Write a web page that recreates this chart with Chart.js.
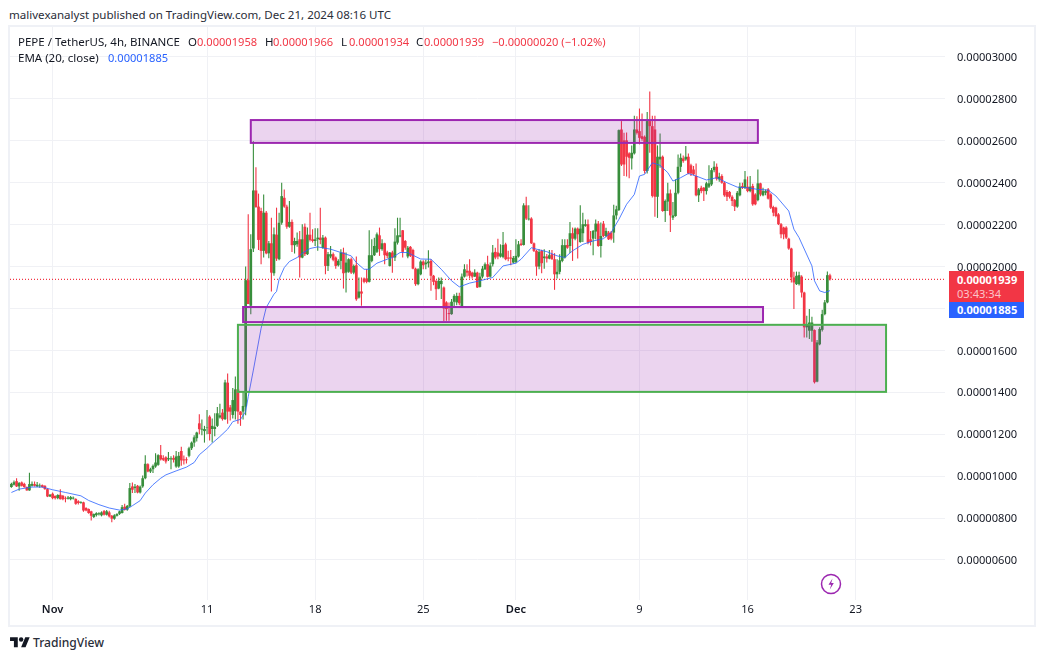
<!DOCTYPE html>
<html><head><meta charset="utf-8">
<style>
html,body{margin:0;padding:0;background:#fff;width:1044px;height:660px;overflow:hidden}
body{font-family:"Noto Sans",sans-serif;font-size:11.5px;color:#131722;position:relative}
.t{position:absolute;white-space:nowrap;line-height:16px}
.r{color:#F23645;font-size:11.1px}.b{color:#2962FF;font-size:11.1px}
#frame{position:absolute;left:8px;top:25px;width:1024px;height:598px;border:2px solid #eff1f6}
canvas{position:absolute;left:10px;top:27px}
.pill{position:absolute;left:949px;width:75px;color:#fff;font-weight:700;font-size:11.1px}
.pill span{position:absolute;left:8px;white-space:nowrap;line-height:16px}
</style></head><body>
<div id="frame"></div>
<canvas id="c" width="1024" height="598"></canvas>
<div class="t" style="left:9px;top:7px;font-size:11.55px;color:#2a2e39">malivexanalyst published on TradingView.com, Dec 21, 2024 08:16 UTC</div>
<div class="t" style="left:18px;top:34px">PEPE / TetherUS, 4h, BINANCE</div>
<div class="t" style="left:188px;top:34px">O</div><div class="t r" style="left:197px;top:34px">0.00001958</div>
<div class="t" style="left:265px;top:34px">H</div><div class="t r" style="left:273px;top:34px">0.00001966</div>
<div class="t" style="left:341px;top:34px">L</div><div class="t r" style="left:349px;top:34px">0.00001934</div>
<div class="t" style="left:416px;top:34px">C</div><div class="t r" style="left:424px;top:34px">0.00001939</div>
<div class="t r" style="left:492px;top:34px">−0.00000020 (−1.02%)</div>
<div class="t" style="left:18px;top:50px">EMA (20, close)</div><div class="t b" style="left:108px;top:50px">0.00001885</div>
<div class="pill" style="top:271px;height:31px;background:#F23645"><span style="top:1px">0.00001939</span><span style="top:15px;font-weight:400;color:#fbc4c9">03:43:34</span></div>
<div class="pill" style="top:302px;height:16px;background:#2962FF"><span style="top:0">0.00001885</span></div>
<svg style="position:absolute;left:819px;top:572px" width="24" height="24" viewBox="0 0 24 24"><circle cx="12" cy="12" r="9.5" fill="#fff" stroke="#9C27B0" stroke-width="1.5"/><path d="M13.5 6.5 L9.5 12.8 H12.2 L10.8 17.5 L14.8 11 H12.2 Z" fill="#9C27B0"/></svg>
<svg style="position:absolute;left:10px;top:635px" width="20" height="15.5" viewBox="0 0 36 28"><path fill="#131722" d="M14 22H7V11H0V4h14v18zM28 22h-8l7.5-18h8L28 22z"/><circle fill="#131722" cx="20" cy="8" r="4"/></svg>
<div class="t" style="left:33px;top:635px;font-size:12.1px;font-weight:500;color:#2a2e39">TradingView</div>
<script src="https://cdn.jsdelivr.net/npm/chart.js@4"></script>
<script>
const firstBar = -16;
const opens = [
948,959,976,951,970,963,948,932,954,962,
951,952,957,954,938,903,916,906,895,911,
906,895,892,890,893,891,880,872,875,848,
843,832,805,814,818,813,833,816,827,811,
797,811,820,824,854,840,856,951,943,954,
922,951,990,1057,1022,1033,1046,1054,1100,1086,
1090,1080,1080,1087,1046,1046,1120,1080,1080,1097,
1133,1160,1181,1252,1222,1215,1230,1284,1225,1225,
1240,1280,1303,1272,1446,1328,1292,1310,1414,1308,
1308,1332,1935,1813,2086,2363,2286,2265,2075,2257,
2063,2111,1968,2152,2035,2209,2328,2286,2190,2213,
2102,2106,2130,2043,2190,2059,2152,2130,2122,2130,
2138,2089,2138,2003,2048,2059,2043,2006,2027,2067,
1971,1975,2035,1971,2006,1852,1881,1943,1943,1927,
2027,2054,2070,2149,2083,2111,2067,2003,2067,2043,
2114,2143,2173,2122,2048,2094,2079,1990,1916,1963,
2024,2011,2016,2027,1956,1932,1895,1916,1900,1829,
1778,1773,1832,1829,1860,1805,1952,1980,1980,1971,
1952,1971,1903,1952,1987,2011,1952,2011,2070,2067,
2048,2046,2106,2043,2043,2019,2022,2048,2110,2103,
2292,2225,2229,2111,2075,2000,2075,2040,2048,2038,
2059,2035,1963,1975,2027,2043,2103,2098,2159,2133,
2181,2117,2159,2194,2202,2130,2133,2167,2205,2098,
2205,2146,2162,2162,2162,2244,2270,2654,2602,2602,
2540,2516,2540,2654,2646,2622,2619,2456,2694,2670,
2654,2333,2511,2524,2265,2310,2349,2233,2241,2352,
2476,2516,2511,2524,2483,2463,2432,2340,2376,2376,
2360,2381,2392,2460,2476,2416,2432,2400,2356,2356,
2333,2317,2286,2340,2384,2376,2381,2360,2384,2344,
2317,2397,2340,2352,2368,2344,2284,2281,2249,2202,
2186,2186,2133,2086,1948,1916,1916,1952,1876,1710,
1694,1694,1697,1451,1629,1698,1773,1829,1958];
const highs = [
968,979,990,972,975,968,951,1016,975,975,
972,965,960,957,942,915,922,908,914,938,
910,903,905,905,903,895,885,880,878,852,
846,835,822,828,828,832,838,838,835,815,
818,823,835,862,868,862,967,970,962,958,
955,1003,1100,1062,1040,1055,1109,1105,1148,1100,
1095,1115,1095,1100,1120,1115,1140,1098,1090,1140,
1165,1195,1212,1295,1270,1240,1315,1290,1275,1300,
1330,1345,1320,1460,1490,1340,1420,1475,1487,1310,
1400,2000,2249,2154,2598,2474,2348,2281,2344,2265,
2122,2233,2186,2281,2257,2400,2368,2295,2313,2225,
2138,2162,2170,2202,2206,2186,2257,2178,2183,2183,
2281,2150,2143,2070,2098,2067,2048,2035,2083,2090,
2067,2040,2043,2010,2048,1948,1948,1948,1987,2173,
2130,2138,2162,2186,2130,2114,2075,2070,2075,2183,
2233,2233,2175,2127,2098,2098,2085,1995,1992,2030,
2030,2032,2078,2035,1960,1935,1948,1948,1905,1835,
1829,1845,1868,1875,1875,1967,2011,2011,2035,1975,
1987,1975,1971,2003,2019,2051,2019,2103,2090,2133,
2106,2165,2114,2075,2079,2050,2130,2122,2130,2302,
2333,2292,2235,2115,2080,2083,2080,2083,2060,2079,
2079,2064,2035,2059,2130,2130,2130,2213,2186,2186,
2186,2292,2257,2225,2225,2170,2175,2225,2217,2210,
2217,2185,2170,2170,2295,2290,2654,2694,2638,2640,
2545,2578,2720,2717,2754,2730,2625,2738,2835,2720,
2720,2578,2635,2530,2320,2400,2368,2308,2416,2535,
2540,2530,2575,2540,2490,2480,2492,2375,2385,2380,
2405,2483,2470,2503,2492,2448,2440,2405,2365,2360,
2340,2322,2360,2400,2400,2456,2430,2432,2395,2350,
2463,2400,2376,2368,2375,2350,2290,2285,2255,2208,
2190,2192,2138,2090,1975,1976,1975,1958,1880,1765,
1797,1760,1700,1650,1710,1794,1840,1976,1966];
const lows = [
945,955,948,930,950,945,930,930,950,950,
948,945,945,935,900,900,890,888,890,888,
885,875,888,885,888,863,865,868,830,832,
820,788,800,808,812,808,812,812,803,780,
792,808,815,822,836,835,852,920,920,918,
917,945,985,1018,1015,1015,1040,1050,1075,1072,
1060,1072,1033,1065,1040,1040,1050,1055,1060,1090,
1125,1140,1165,1200,1195,1160,1200,1170,1160,1190,
1235,1275,1265,1268,1250,1265,1275,1270,1250,1240,
1270,1290,1821,1773,2070,2280,2079,2011,2043,2059,
2040,1881,1956,2027,2030,2200,2280,2180,2185,2070,
2062,2095,1948,2040,2050,2055,2120,2115,2098,2075,
2106,2085,1963,1979,2040,2025,1990,2000,1987,1895,
1876,1970,1965,1963,1837,1848,1813,1920,1920,1924,
2020,2050,2065,2051,2075,2011,2040,2000,1971,2027,
2105,2140,2043,2080,2040,2045,1987,1908,1911,1958,
1987,1987,1995,1884,1911,1841,1892,1845,1740,1742,
1741,1770,1810,1815,1815,1803,1948,1952,1943,1943,
1950,1898,1900,1944,1984,1948,1948,2000,2035,2035,
2043,2040,2030,2025,2006,2015,2016,2043,2098,2101,
2222,2220,2108,2070,1956,1987,1968,1990,2019,2035,
2032,1889,1943,1963,2020,2038,2085,2065,2027,2125,
2038,2114,2117,2190,2106,2100,2054,2130,2095,2043,
2140,2140,2127,2125,2114,2225,2265,2480,2432,2430,
2421,2463,2535,2630,2583,2600,2444,2444,2543,2330,
2238,2232,2471,2262,2213,2265,2165,2222,2238,2345,
2451,2495,2505,2440,2432,2435,2335,2308,2350,2313,
2344,2375,2385,2450,2410,2405,2395,2333,2313,2325,
2289,2265,2281,2335,2370,2370,2355,2355,2290,2292,
2312,2335,2335,2340,2320,2275,2240,2235,2198,2135,
2130,2132,2080,1924,1797,1912,1910,1852,1662,1662,
1654,1641,1442,1448,1625,1690,1768,1825,1934];
const closes = [
963,971,951,967,954,948,932,962,963,954,
959,955,948,938,903,911,895,895,910,890,
890,892,898,900,897,868,872,876,836,836,
824,811,819,823,823,827,816,832,808,797,
813,819,832,852,840,858,943,935,950,922,
950,990,1059,1022,1033,1049,1065,1100,1080,1078,
1070,1086,1085,1078,1094,1097,1075,1075,1076,1133,
1160,1185,1208,1224,1226,1225,1232,1201,1240,1235,
1300,1290,1272,1447,1308,1308,1363,1414,1308,1292,
1335,1935,1821,2083,2363,2284,2127,2075,2257,2063,
2111,1971,2154,2038,2209,2336,2286,2190,2213,2102,
2122,2122,2043,2130,2059,2152,2127,2122,2130,2138,
2127,2138,2003,2059,2059,2032,2003,2027,2067,1968,
2019,2035,1971,2003,1844,1881,1871,1927,1927,2054,
2054,2098,2154,2083,2111,2054,2051,2067,2043,2119,
2149,2149,2070,2090,2090,2051,1990,1916,1987,2024,
2006,2019,2024,1956,1927,1892,1932,1932,1800,1797,
1773,1832,1860,1860,1825,1952,1987,1971,1956,1952,
1971,1900,1952,1990,2011,1951,2005,2067,2043,2048,
2063,2103,2035,2038,2038,2041,2051,2106,2103,2292,
2229,2229,2111,2075,2000,2070,2016,2048,2038,2054,
2035,1963,1975,2030,2102,2102,2090,2159,2133,2181,
2154,2181,2202,2202,2114,2117,2170,2205,2098,2146,
2146,2170,2130,2133,2244,2273,2651,2487,2487,2524,
2519,2543,2654,2638,2614,2609,2456,2694,2670,2337,
2333,2524,2524,2265,2313,2349,2244,2244,2352,2476,
2519,2503,2524,2444,2444,2440,2340,2368,2360,2360,
2397,2397,2460,2476,2419,2429,2400,2340,2333,2333,
2313,2286,2352,2381,2376,2416,2360,2381,2297,2297,
2397,2344,2360,2360,2324,2281,2257,2241,2202,2154,
2154,2138,2086,1948,1924,1956,1959,1876,1710,1725,
1733,1733,1448,1638,1702,1773,1829,1959,1939];
const emaBars = [-16,-13,-8,-4,0,5,11,14,18,22,26,29,31,34,36,39,42,44,48,52,55,57,60,62,65,68,70,73,75,76,78,81,83,86,87,88,90,92,95,97,100,103,105,108,112,116,118,121,123,126,130,132,135,138,140,143,147,151,155,158,162,166,171,175,180,182,186,188,192,196,199,202,206,210,214,217,220,223,226,228,230,233,236,239,241,244,247,250,254,258,262,266,270,274,278,281,286,288,290,295,296,298,300,302];
const emaValues = [922,938,948,948,935,922,906,884,864,848,838,844,859,883,919,959,990,1006,1025,1043,1065,1102,1133,1157,1189,1224,1260,1271,1308,1379,1506,1705,1805,1868,1881,1940,1995,2024,2043,2063,2086,2094,2089,2083,2067,2051,2019,1987,1987,2016,2035,2043,2067,2067,2054,2036,2035,1987,1932,1903,1921,1932,1948,2003,2016,2035,2090,2083,2071,2051,2043,2075,2106,2122,2133,2162,2225,2297,2344,2432,2440,2495,2483,2448,2408,2424,2444,2432,2413,2424,2400,2379,2376,2368,2365,2337,2265,2178,2138,2003,1932,1884,1876,1885];
const lastPrice = 1939;
const yTicks = [600,800,1000,1200,1400,1600,1800,2000,2200,2400,2600,2800,3000];
const xTickBars = [0,60,102,144,180,228,270,312];
const xTickLabels = ['Nov','11','18','25','Dec','9','16','23'];
const zoneBarStart = [77,74,72];
const zoneBarEnd = [274,276,323.8];
const zoneTop = [2699,1807,1722];
const zoneBottom = [2590,1735,1402];
const zoneEdge = ['#9C27B0','#9C27B0','#4CAF50'];
const xMin = -16.55, xMax = 346.7, yMin = 409, yMax = 3143;

const UP='#388E3C', DOWN='#F23645';
const fmt = v => (v/1e8).toFixed(8);
const barColors = closes.map((c,i)=> c>=opens[i] ? UP : DOWN);
const wicks = opens.map((_,i)=>({x:firstBar+i,y:[lows[i],highs[i]]}));
const bodies = opens.map((o,i)=>({x:firstBar+i,y:[Math.min(o,closes[i]),Math.max(o,closes[i])]}));

const zones = {id:'zones',afterDatasetsDraw(ch){
  const {ctx,scales:{x,y}}=ch;
  ctx.save();
  zoneTop.forEach((t,i)=>{
    const l=x.getPixelForValue(zoneBarStart[i]),r=x.getPixelForValue(zoneBarEnd[i]);
    const a=y.getPixelForValue(t),b=y.getPixelForValue(zoneBottom[i]);
    ctx.fillStyle='rgba(156,39,176,0.2)';ctx.fillRect(l,a,r-l,b-a);
    ctx.strokeStyle=zoneEdge[i];ctx.lineWidth=2;ctx.strokeRect(l,a,r-l,b-a);
  });
  ctx.restore();
}};

new Chart(document.getElementById('c'),{
  type:'bar',
  data:{datasets:[
    {type:'line',label:'Last',data:[{x:xMin,y:lastPrice},{x:xMax,y:lastPrice}],borderColor:DOWN,borderWidth:1.3,borderDash:[1,2],pointRadius:0,order:4},
    {label:'Wicks',data:wicks,backgroundColor:barColors,barThickness:1.1,inflateAmount:0,grouped:false,order:3},
    {label:'Bodies',data:bodies,backgroundColor:barColors,barThickness:2.7,inflateAmount:0,grouped:false,order:2},
    {type:'line',label:'EMA (20, close)',data:emaBars.map((b,i)=>({x:b,y:emaValues[i]})),borderColor:'rgba(41,98,255,0.8)',borderWidth:1,pointRadius:0,tension:0,order:1}
  ]},
  options:{
    responsive:false,animation:false,
    layout:{padding:0},
    plugins:{legend:{display:false},tooltip:{enabled:false}},
    scales:{
      x:{type:'linear',min:xMin,max:xMax,offset:false,
        afterBuildTicks(s){s.ticks=xTickBars.map(v=>({value:v}));},
        afterFit(s){s.height=25;s.paddingLeft=s.paddingRight=s.paddingTop=s.paddingBottom=0;},
        grid:{color:'#f0f1f5',lineWidth:1,drawTicks:false,offset:false},border:{display:false},
        ticks:{autoSkip:false,maxRotation:0,padding:3,color:'#131722',
          font:c=>({family:'"Noto Sans"',size:11.1,weight:/[A-Z]/.test(xTickLabels[xTickBars.indexOf(c.tick&&c.tick.value)]||'')?'600':'400'}),
          callback:v=>xTickLabels[xTickBars.indexOf(v)]}},
      y:{type:'linear',position:'right',min:yMin,max:yMax,
        afterBuildTicks(s){s.ticks=yTicks.map(v=>({value:v}));},
        afterFit(s){s.width=89;s.paddingLeft=s.paddingRight=s.paddingTop=s.paddingBottom=0;
          if(!s._nudged){const f=s._computeLabelItems.bind(s);s._computeLabelItems=a=>{const it=f(a);it.forEach(i=>{i.options.translation=[i.options.translation[0],i.options.translation[1]+1];});return it;};s._nudged=true;}},
        grid:{color:'#f0f1f5',lineWidth:1,drawTicks:false},border:{display:false},
        ticks:{padding:12,color:'#131722',font:{family:'"Noto Sans"',size:11.1},callback:v=>fmt(v)}}
    }
  },
  plugins:[zones]
});
</script>
</body></html>
